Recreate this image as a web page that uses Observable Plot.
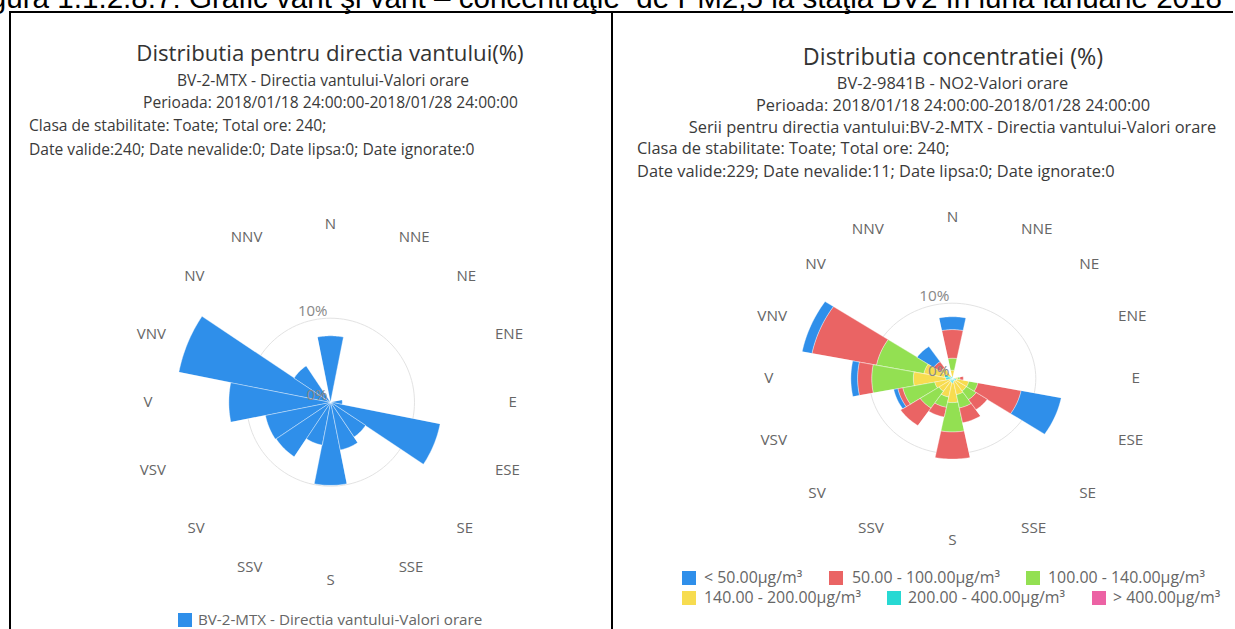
<!DOCTYPE html>
<html><head><meta charset="utf-8">
<script src="https://cdn.jsdelivr.net/npm/d3@7"></script>
<script src="https://cdn.jsdelivr.net/npm/@observablehq/plot@0.6"></script>
<style>
body{margin:0;background:#fff;}
#page{position:relative;width:1235px;height:629px;overflow:hidden;font-family:"Open Sans",sans-serif;background:#fff;}
.t{position:absolute;white-space:nowrap;line-height:1;}
.c{transform:translate(-50%,-50%);}
.l{transform:translateY(-50%);}
.title{font-size:22.2px;color:#333;}
.titleR{font-size:23.3px;color:#333;}
.sub{font-size:15.6px;color:#3a3a3a;}
.subR{font-size:16.4px;color:#3a3a3a;}
.leg{font-size:15.2px;color:#666;}
.legR{font-size:15.9px;color:#666;}
.sw{position:absolute;width:14px;height:14px;}
.rule{position:absolute;background:#000;}
#cap{position:absolute;right:13px;top:-17.3px;font-family:"Liberation Sans",Arial,sans-serif;font-size:29.6px;line-height:1;white-space:nowrap;color:#000;}
.plot{position:absolute;}
</style>
</head><body>
<div id="page">
  <div id="cap">Figura 1.1.2.8.7: Grafic vânt şi vânt – concentraţie&nbsp; de PM2,5 la staţia BV2 în luna ianuarie 2018</div>
  <div class="rule" style="left:9px;top:11px;width:1224px;height:2px"></div>
  <div class="rule" style="left:9px;top:11px;width:2px;height:620px"></div>
  <div class="rule" style="left:611px;top:11px;width:2px;height:620px"></div>

  <div class="t c title" style="left:330px;top:53px">Distributia pentru directia vantului(%)</div>
  <div class="t c sub" style="left:323px;top:81px">BV-2-MTX - Directia vantului-Valori orare</div>
  <div class="t c sub" style="left:330.5px;top:103px">Perioada: 2018/01/18 24:00:00-2018/01/28 24:00:00</div>
  <div class="t l sub" style="left:29px;top:126px">Clasa de stabilitate: Toate; Total ore: 240;</div>
  <div class="t l sub" style="left:29px;top:150px">Date valide:240; Date nevalide:0; Date lipsa:0; Date ignorate:0</div>

  <div class="t c titleR" style="left:953px;top:57px">Distributia concentratiei (%)</div>
  <div class="t c subR" style="left:952.5px;top:83px">BV-2-9841B - NO2-Valori orare</div>
  <div class="t c subR" style="left:953px;top:105px">Perioada: 2018/01/18 24:00:00-2018/01/28 24:00:00</div>
  <div class="t c subR" style="left:952.5px;top:127px">Serii pentru directia vantului:BV-2-MTX - Directia vantului-Valori orare</div>
  <div class="t l subR" style="left:637px;top:148px">Clasa de stabilitate: Toate; Total ore: 240;</div>
  <div class="t l subR" style="left:637px;top:171px">Date valide:229; Date nevalide:11; Date lipsa:0; Date ignorate:0</div>

  <div id="leftPlot" class="plot" style="left:10px;top:180px"></div>
  <div id="rightPlot" class="plot" style="left:614px;top:180px"></div>
</div>
<script>
// ---------- DATA ----------
const directions = ["N","NNE","NE","ENE","E","ESE","SE","SSE","S","SSV","SV","VSV","V","VNV","NV","NNV"];
// Wind direction distribution (%), BV-2-MTX
const windShare = [7.9,0,0,0,1.4,13.3,5.0,5.8,9.9,5.2,7.8,7.9,12.1,18.4,5.2,0];
const windSeriesName = "BV-2-MTX - Directia vantului-Valori orare";
// NO2 concentration distribution by wind direction (%)
const concClasses = ["< 50.00µg/m³","50.00 - 100.00µg/m³","100.00 - 140.00µg/m³","140.00 - 200.00µg/m³","200.00 - 400.00µg/m³","> 400.00µg/m³"];
const concLt50     = [1.7,0,0,0,0.0,4.9,0.0,0.0,0.0,0.0,0.0,0.5,0.8,1.2,2.4,0];
const conc50to100  = [3.8,0,0,0,0.4,5.3,1.6,2.0,3.6,1.3,2.8,0.6,1.7,7.9,1.0,0];
const conc100to140 = [1.6,0,0,0,0.3,1.1,1.4,1.8,3.9,1.4,2.7,3.9,5.0,5.8,0.0,0];
const conc140to200 = [0.8,0,0,0,0.3,1.5,1.6,1.8,2.6,2.0,1.6,1.9,3.9,2.5,1.4,0];
const conc200to400 = [0.3,0,0,0,0.3,0.5,0.4,0.4,0.6,0.5,0.4,0.3,0.8,1.0,0.3,0];
const concGt400    = [0,0,0,0,0,0,0,0,0,0,0,0,0,0,0,0];
const radialTicks = [0, 10];

// ---------- STYLE ----------
const windColor = "#2f8fea";
const concColors = ["#2f8fea","#ea6464","#93e052","#f7dc50","#27d9d3","#ec62a4"];

// ---------- GEOMETRY HELPERS ----------
const toRad = d => d * Math.PI / 180;
function sectorRing(i, r0, r1, steps = 16) {
  const a0 = toRad(i * 22.5 - 11.25), a1 = toRad(i * 22.5 + 11.25);
  const pts = [];
  for (let s = 0; s <= steps; s++) { const a = a0 + (a1 - a0) * s / steps; pts.push([r1 * Math.sin(a), r1 * Math.cos(a)]); }
  if (r0 > 0) for (let s = steps; s >= 0; s--) { const a = a0 + (a1 - a0) * s / steps; pts.push([r0 * Math.sin(a), r0 * Math.cos(a)]); }
  else pts.push([0, 0]);
  return pts;
}
function gridRings() {
  const rows = [];
  radialTicks.filter(t => t > 0).forEach(t => { for (let k = 0; k < 120; k++) { const a = toRad(k * 3); rows.push({r: t, x: t * Math.sin(a), y: t * Math.cos(a)}); } });
  return rows;
}
function dirLabels(R) {
  return directions.map((d, i) => { const a = toRad(i * 22.5); return {d, x: R * Math.sin(a), y: R * Math.cos(a), anchor: (i === 0 || i === 8) ? "middle" : (i < 8 ? "start" : "end")}; });
}
const tickRows = radialTicks.map(t => ({t, x: 0, y: t, label: t + "%"}));

function roseMarks(segMark, labelR, fs) {
  const labels = dirLabels(labelR);
  return [
    Plot.line(gridRings(), {x: "x", y: "y", z: "r", curve: "linear-closed", stroke: "#e3e3e3", strokeWidth: 1}),
    segMark,
    ...["start", "middle", "end"].map(an => Plot.text(labels.filter(l => l.anchor === an), {x: "x", y: "y", text: "d", textAnchor: an, fill: "#666", fontSize: fs})),
    Plot.text(tickRows, {x: "x", y: "y", text: "label", textAnchor: "end", dx: -3, dy: -7, fill: "#888", fontSize: fs})
  ];
}

// ---------- LEFT ROSE ----------
const leftSegs = [];
directions.forEach((d, i) => { if (windShare[i] > 0) sectorRing(i, 0, windShare[i]).forEach(([x, y]) => leftSegs.push({id: d, series: windSeriesName, x, y})); });
{
  const W = 600, H = 420, cx = 320, cy = 221.7, k = 8.4;
  const p = Plot.plot({
    width: W, height: H, margin: 0,
    x: {domain: [-cx / k, (W - cx) / k], axis: null},
    y: {domain: [-(H - cy) / k, cy / k], axis: null},
    style: {fontFamily: "Open Sans", overflow: "visible", background: "transparent"},
    marks: roseMarks(
      Plot.line(leftSegs, {x: "x", y: "y", z: "id", curve: "linear-closed", fill: windColor, stroke: "#fff", strokeWidth: 0.6, strokeOpacity: 0.6}),
      21.2, 15)
  });
  document.getElementById("leftPlot").appendChild(p);
}

// ---------- RIGHT ROSE ----------
const concSeries = [concLt50, conc50to100, conc100to140, conc140to200, conc200to400, concGt400];
const rightSegs = [];
directions.forEach((d, i) => {
  let base = 0;
  for (let s = concSeries.length - 1; s >= 0; s--) {
    const v = concSeries[s][i];
    if (v > 0) sectorRing(i, base, base + v).forEach(([x, y]) => rightSegs.push({id: d + "-" + s, cls: concClasses[s], x, y}));
    base += v;
  }
});
{
  const W = 621, H = 390, cx = 338, cy = 198, kx = 8.33, ky = 7.53;
  const p = Plot.plot({
    width: W, height: H, margin: 0,
    x: {domain: [-cx / kx, (W - cx) / kx], axis: null},
    y: {domain: [-(H - cy) / ky, cy / ky], axis: null},
    color: {domain: concClasses, range: concColors},
    style: {fontFamily: "Open Sans", overflow: "visible", background: "transparent"},
    marks: roseMarks(
      Plot.line(rightSegs, {x: "x", y: "y", z: "id", curve: "linear-closed", fill: "cls", stroke: "#fff", strokeWidth: 0.6, strokeOpacity: 0.6}),
      21.5, 15.3)
  });
  document.getElementById("rightPlot").appendChild(p);
}

// ---------- LEGENDS ----------
function legendItem(parent, color, label, sx, tx, y, cls) {
  const sw = document.createElement("div"); sw.className = "sw"; sw.style.background = color; sw.style.left = sx + "px"; sw.style.top = (y - 7) + "px";
  const tt = document.createElement("div"); tt.className = "t l " + cls; tt.textContent = label; tt.style.left = tx + "px"; tt.style.top = y + "px";
  parent.appendChild(sw); parent.appendChild(tt);
}
const page = document.getElementById("page");
legendItem(page, windColor, windSeriesName, 178, 198, 620, "leg");
const legPos = [[682, 704, 578], [829, 852, 578], [1026, 1048, 578], [682, 704, 598], [887, 908, 598], [1092, 1113, 598]];
concClasses.forEach((c, i) => legendItem(page, concColors[i], c, ...legPos[i], "legR"));
</script>
</body></html>
